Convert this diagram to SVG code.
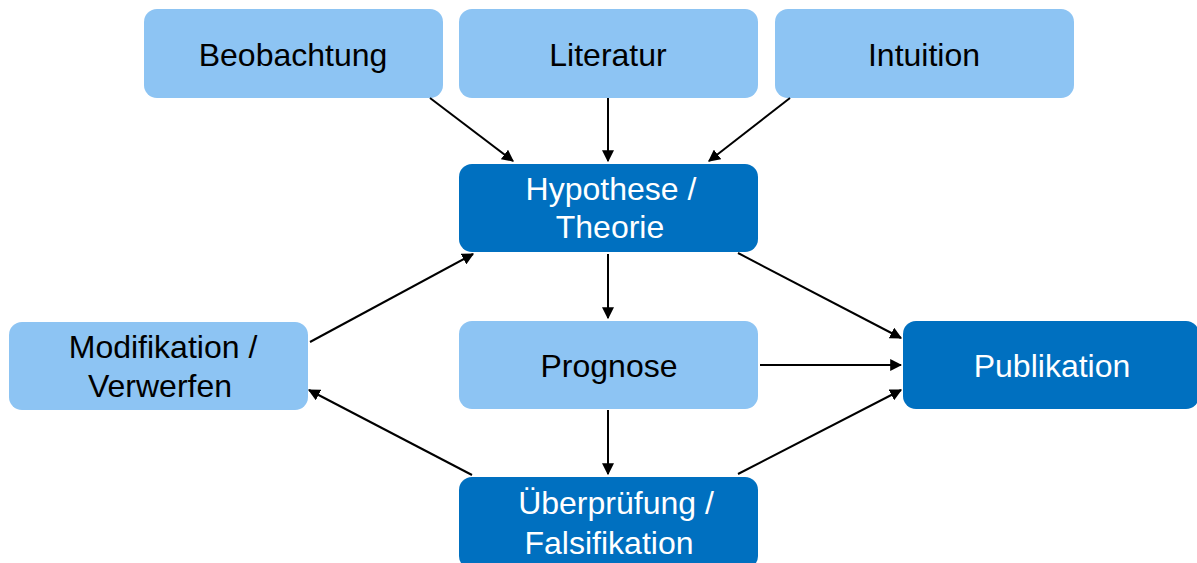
<svg xmlns="http://www.w3.org/2000/svg" width="1197" height="563" viewBox="0 0 1197 563">
<style>
.light{fill:#8DC4F3}
.dark{fill:#0070C0}
text{font-family:"Liberation Sans",Arial,sans-serif;font-size:32px;text-anchor:middle}
.lt{fill:#000}
.dt{fill:#fff}
.conn line{stroke:#000;stroke-width:2;marker-end:url(#ah)}
</style>
<defs>
<marker id="ah" viewBox="0 0 10 10" refX="9" refY="5" markerWidth="6" markerHeight="6" orient="auto" markerUnits="strokeWidth">
<path d="M0,0 L10,5 L0,10 z" fill="#000"/>
</marker>
</defs>
<rect width="1197" height="563" fill="#fff"/>
<g id="beobachtung"><rect class="light" x="144" y="9" width="299" height="89" rx="13"/><text class="lt" x="293" y="66">Beobachtung</text></g>
<g id="literatur"><rect class="light" x="459" y="9" width="299" height="89" rx="13"/><text class="lt" x="608" y="66">Literatur</text></g>
<g id="intuition"><rect class="light" x="775" y="9" width="299" height="89" rx="13"/><text class="lt" x="924" y="66">Intuition</text></g>
<g id="hypothese"><rect class="dark" x="459" y="164" width="299" height="88" rx="13"/><text class="dt" x="611" y="200">Hypothese /</text><text class="dt" x="610" y="238">Theorie</text></g>
<g id="modifikation"><rect class="light" x="9" y="322" width="299" height="88" rx="13"/><text class="lt" x="163" y="358">Modifikation /</text><text class="lt" x="160" y="397">Verwerfen</text></g>
<g id="prognose"><rect class="light" x="459" y="321" width="299" height="88" rx="13"/><text class="lt" x="609" y="377">Prognose</text></g>
<g id="publikation"><rect class="dark" x="903" y="321" width="296" height="88" rx="13"/><text class="dt" x="1052" y="377">Publikation</text></g>
<g id="ueberpruefung"><rect class="dark" x="459" y="477" width="299" height="92" rx="13"/><text class="dt" x="616" y="514">Überprüfung /</text><text class="dt" x="609" y="554">Falsifikation</text></g>
<g id="connectors" class="conn">
<line x1="430" y1="98" x2="513" y2="161"/>
<line x1="608" y1="98" x2="608" y2="161"/>
<line x1="790" y1="98" x2="709" y2="161"/>
<line x1="608" y1="254" x2="608" y2="318"/>
<line x1="738" y1="253" x2="901" y2="338"/>
<line x1="310" y1="342" x2="473" y2="254"/>
<line x1="472" y1="475" x2="309" y2="390"/>
<line x1="760" y1="365" x2="901" y2="365"/>
<line x1="738" y1="474" x2="901" y2="390"/>
<line x1="608" y1="410" x2="608" y2="474"/>
</g>
</svg>
